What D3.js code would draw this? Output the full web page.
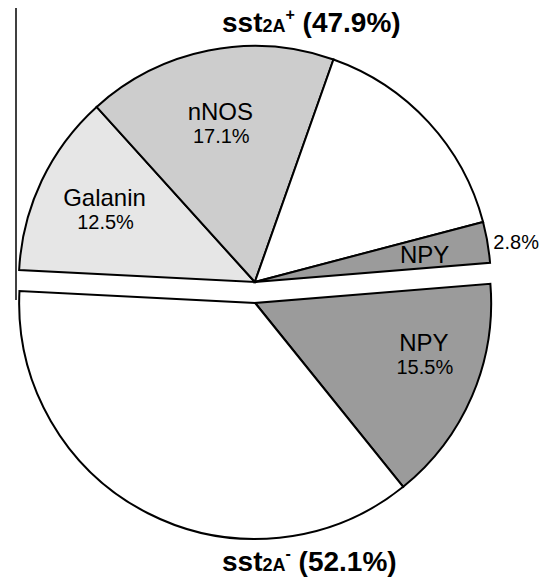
<!DOCTYPE html>
<meta charset="utf-8">
<style>
body { margin: 0; background: #fff; }
text { font-family: "Liberation Sans", Arial, sans-serif; fill: #000; }
.slices path { stroke: #000; stroke-width: 2px; stroke-linejoin: miter; }
</style>
<svg width="549" height="577"></svg>
<script src="https://d3js.org/d3.v7.min.js"></script>
<script>

// groups (outer split)
var groupNames = ["+", "-"],
    groupValues = [47.9, 52.1];

// slices, clockwise from the left edge of the top half
var sliceLabels = ["Galanin", "nNOS", "", "NPY", "NPY", ""],
    sliceValues = [12.5, 17.1, 15.5, 2.8, 15.5, 36.6],
    sliceGroup  = [0, 0, 0, 0, 1, 1],
    sliceFill   = ["#e6e6e6", "#cdcdcd", "#ffffff", "#9b9b9b", "#9b9b9b", "#ffffff"];

var svg = d3.select("svg"),
    cx = 255, cy = 292.5,
    radius = 236,
    explode = 10.5,
    start = -87.1 * Math.PI / 180;

var pie = d3.pie().sort(null).value(function(d) { return d; })
    .startAngle(start).endAngle(start + 2 * Math.PI);

var groupArcs = pie(groupValues),
    sliceArcs = pie(sliceValues);

var arc = d3.arc().innerRadius(0).outerRadius(radius);

function offset(g) {
  var a = (groupArcs[g].startAngle + groupArcs[g].endAngle) / 2;
  return [cx + explode * Math.sin(a), cy - explode * Math.cos(a)];
}

// stray left border line
svg.append("line")
    .attr("x1", 16).attr("x2", 16).attr("y1", 8).attr("y2", 300)
    .attr("stroke", "#000").attr("stroke-width", 1.5);

var slice = svg.append("g")
    .attr("class", "slices")
  .selectAll("g")
  .data(sliceArcs)
  .enter().append("g")
    .attr("transform", function(d, i) { return "translate(" + offset(sliceGroup[i]) + ")"; });

slice.append("path")
    .attr("d", arc)
    .attr("fill", function(d, i) { return sliceFill[i]; });

// label placement: fraction along the slice and radius
var labelFrac = [0.54, 0.49, 0.5, 0.54, 0.36, 0.5],
    labelRad  = [169, 167, 0, 172, 175, 0];

slice.each(function(d, i) {
  if (!sliceLabels[i]) return;
  var a = d.startAngle + (d.endAngle - d.startAngle) * labelFrac[i],
      x = labelRad[i] * Math.sin(a),
      y = -labelRad[i] * Math.cos(a),
      g = d3.select(this);
  var small = d.endAngle - d.startAngle < 0.3;
  g.append("text")
      .attr("x", x).attr("y", small ? y + 9 : y + 1)
      .attr("text-anchor", "middle")
      .attr("font-size", 24)
      .text(sliceLabels[i]);
  var pct = d.data.toFixed(1) + "%";
  if (small) {
    var ao = (d.startAngle + d.endAngle) / 2;
    g.append("text")
        .attr("x", (radius + 6) * Math.sin(ao))
        .attr("y", -(radius + 6) * Math.cos(ao) + 8)
        .attr("font-size", 20)
        .text(pct);
  } else {
    g.append("text")
        .attr("x", x + 1).attr("y", y + 24)
        .attr("text-anchor", "middle")
        .attr("font-size", 20)
        .text(pct);
  }
});

// group titles
var titleY = [32, 571];
groupNames.forEach(function(s, g) {
  var t = svg.append("text")
      .attr("x", 222).attr("y", titleY[g])
      .attr("font-weight", "bold")
      .attr("font-size", 28);
  t.append("tspan").text("sst");
  t.append("tspan").attr("font-size", 18).text("2A");
  t.append("tspan").attr("font-size", 16).attr("dy", -12).text(s);
  t.append("tspan").attr("dy", 12).text(" (" + groupValues[g].toFixed(1) + "%)");
});

</script>
